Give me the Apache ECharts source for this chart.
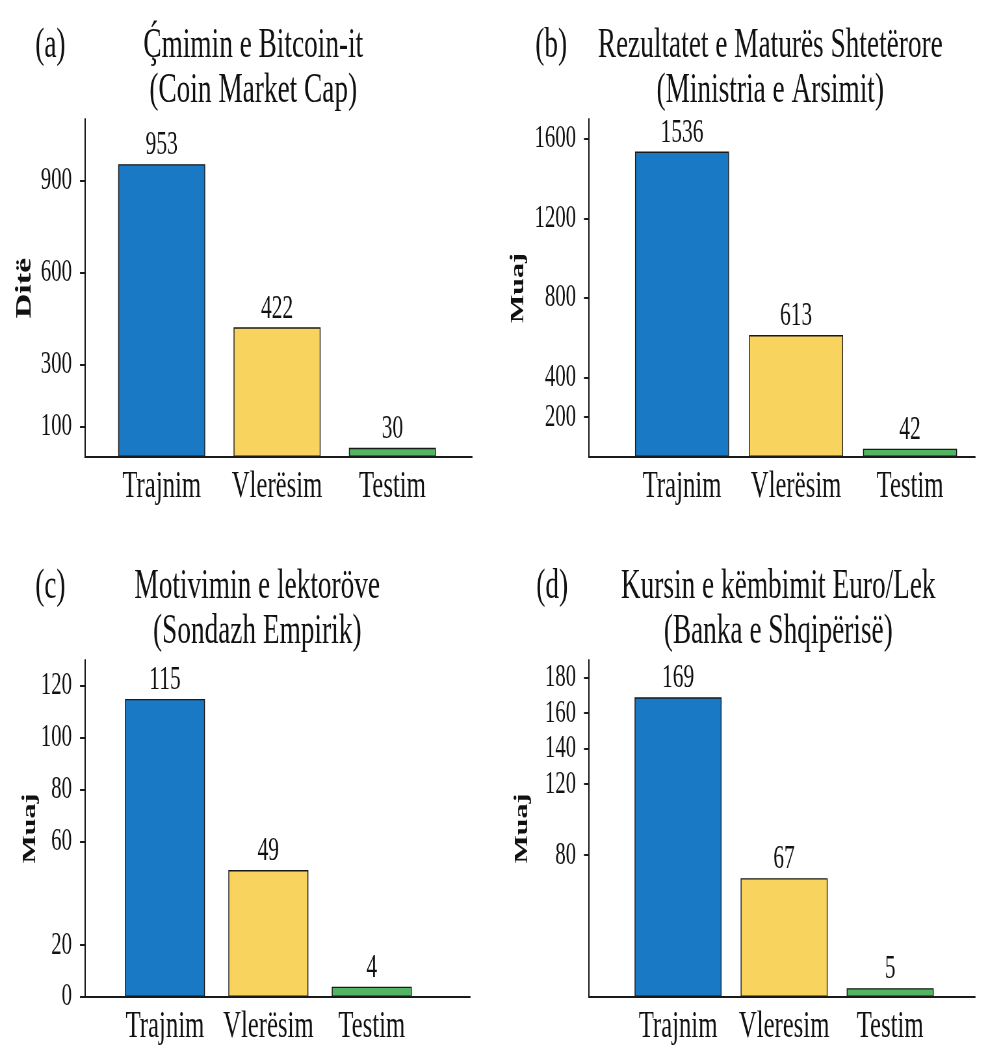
<!DOCTYPE html>
<html>
<head>
<meta charset="utf-8">
<script src="https://cdn.jsdelivr.net/npm/echarts@6/dist/echarts.min.js"></script>
<style>
  html, body { margin: 0; padding: 0; background: #fff; }
  #wrap { width: 983px; height: 1049px; overflow: hidden; position: relative; }
  #chart { height: 1049px; transform-origin: 0 0; }
</style>
</head>
<body>
<div id="wrap"><div id="chart"></div></div>
<script>
// Dataset sizes per split for four data sources
const categories = ['Trajnim', 'Vlerësim', 'Testim'];
const categoriesD = ['Trajnim', 'Vleresim', 'Testim'];

const valuesA = [953, 422, 30];
const valuesB = [1536, 613, 42];
const valuesC = [115, 49, 4];
const valuesD = [169, 67, 5];

const ticksA = [0, 100, 300, 600, 900];
const ticksB = [200, 400, 800, 1200, 1600];
const ticksC = [0, 20, 60, 80, 100, 120];
const ticksD = [80, 120, 140, 160, 180];

const titleA = 'Ç\u0301mimin e Bitcoin-it\n(Coin Market Cap)';
const titleB = 'Rezultatet e Maturës Shtetërore\n(Ministria e Arsimit)';
const titleC = 'Motivimin e lektoröve\n(Sondazh Empirik)';
const titleD = 'Kursin e këmbimit Euro/Lek\n(Banka e Shqipërisë)';

const tags = ['(a)', '(b)', '(c)', '(d)'];
const yNames = ['Ditë', 'Muaj', 'Muaj', 'Muaj'];

// Glyphs are drawn narrow: the canvas is laid out wider and squeezed horizontally.
const SX = 0.65;
const X = px => px / SX;
const FONT = 'Liberation Serif';
const INK = '#111';
const barColors = ['#1a79c4', '#f8d35e', '#53b462'];

const chartEl = document.getElementById('chart');
chartEl.style.width = X(983) + 'px';
chartEl.style.transform = 'scaleX(' + SX + ')';

// Panel geometry (final pixel units)
const panels = [
  { values: valuesA, cats: categories,  ticks: ticksA, yMax: 1100, title: titleA,
    axisX: 85,  axisEnd: 472, top: 119, bottom: 457, xMin: -0.665, xMax: 2.69,
    titleX: 250, titleY: 18, tagX: 32, barW: 87, nameSize: 34, nameGap: 49 },
  { values: valuesB, cats: categories,  ticks: ticksB, yMax: 1700, title: titleB,
    axisX: 589, axisEnd: 975, top: 119, bottom: 457, xMin: -0.816, xMax: 2.57,
    titleX: 767, titleY: 18, tagX: 532, barW: 94, nameSize: 30, nameGap: 61 },
  { values: valuesC, cats: categories,  ticks: ticksC, yMax: 130, title: titleC,
    axisX: 85,  axisEnd: 470, top: 660, bottom: 997, xMin: -0.773, xMax: 2.95,
    titleX: 254, titleY: 559, tagX: 32, barW: 80, nameSize: 30, nameGap: 45 },
  { values: valuesD, cats: categoriesD, ticks: ticksD, yMax: 190, title: titleD,
    axisX: 589, axisEnd: 975, top: 660, bottom: 997, xMin: -0.84, xMax: 2.80,
    titleX: 775, titleY: 559, tagX: 533, barW: 87, nameSize: 30, nameGap: 57 }
];

const option = {
  backgroundColor: '#fff',
  animation: false,
  title: [],
  grid: [],
  xAxis: [],
  yAxis: [],
  series: []
};

panels.forEach((p, i) => {
  option.title.push({
    text: p.title, left: X(p.titleX), top: p.titleY, textAlign: 'center',
    textStyle: { fontFamily: FONT, color: INK, fontWeight: 'normal', fontSize: 42, lineHeight: 45 }
  });
  option.title.push({
    text: tags[i], left: X(p.tagX), top: p.titleY,
    textStyle: { fontFamily: FONT, color: INK, fontWeight: 'normal', fontSize: 42, lineHeight: 45 }
  });
  option.grid.push({
    left: X(p.axisX), top: p.top,
    width: X(p.axisEnd - p.axisX), height: p.bottom - p.top,
    containLabel: false
  });
  option.xAxis.push({
    type: 'value', gridIndex: i, min: p.xMin, max: p.xMax,
    axisLine: { show: true, onZero: false, lineStyle: { color: '#1a1a1a', width: 2 } },
    axisTick: { show: false },
    splitLine: { show: false },
    axisLabel: {
      customValues: [0, 1, 2],
      formatter: v => p.cats[Math.round(v)],
      margin: 11, fontSize: 38, fontFamily: FONT, color: INK
    }
  });
  option.yAxis.push({
    type: 'value', gridIndex: i, min: 0, max: p.yMax,
    name: yNames[i], nameLocation: 'middle', nameGap: X(p.nameGap), nameRotate: 90,
    nameMoveOverlap: false,
    nameTextStyle: { fontSize: p.nameSize, fontFamily: FONT, color: INK, fontWeight: 'bold' },
    axisLine: { show: true, onZero: false, lineStyle: { color: '#1a1a1a', width: 2 } },
    axisTick: { show: true, customValues: p.ticks, length: X(5), lineStyle: { color: '#1a1a1a', width: 2 } },
    splitLine: { show: false },
    axisLabel: {
      customValues: p.ticks, margin: X(13),
      formatter: v => String(v),
      fontSize: 32, fontFamily: FONT, color: INK
    }
  });
  option.series.push({
    type: 'bar', xAxisIndex: i, yAxisIndex: i,
    barWidth: X(p.barW),
    data: p.values.map((v, k) => ({ value: [k, v], itemStyle: { color: barColors[k] } })),
    itemStyle: { borderColor: '#1a1a1a', borderWidth: 1.4 },
    label: {
      show: true, position: 'top', distance: 2,
      fontSize: 33, fontFamily: FONT, color: INK,
      formatter: prm => String(prm.value[1])
    }
  });
});

const chart = echarts.init(chartEl, null, { renderer: 'canvas' });
chart.setOption(option);
</script>
</body>
</html>
